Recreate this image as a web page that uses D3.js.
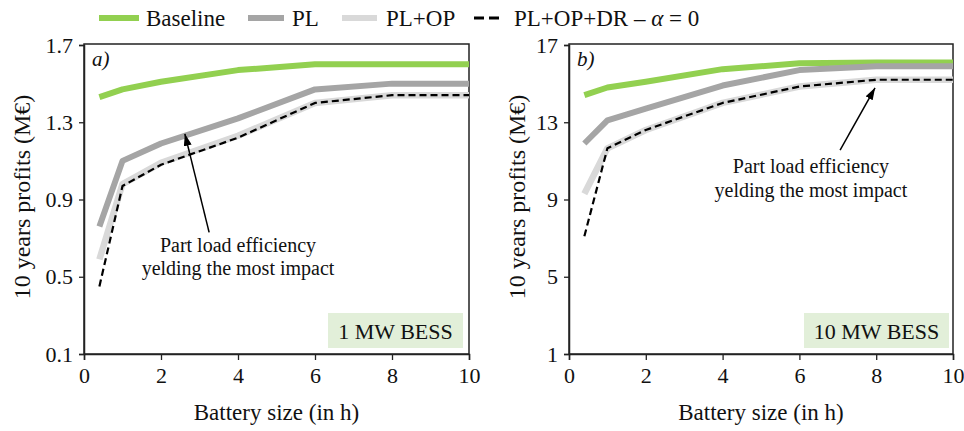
<!DOCTYPE html>
<html>
<head>
<meta charset="utf-8">
<script src="https://cdn.jsdelivr.net/npm/d3@7"></script>
<style>
  html, body { margin: 0; padding: 0; background: #fff; }
  svg { display: block; font-family: "Liberation Serif", "Times New Roman", serif; }
</style>
</head>
<body>
<svg id="chart" width="964" height="431"></svg>
<script>
// ---- data ----
const hours = [0.4, 1, 2, 4, 6, 8, 10];
const xTicks = [0, 2, 4, 6, 8, 10];

// panel a) 1 MW BESS
const base1 = [1.43, 1.47, 1.51, 1.57, 1.60, 1.60, 1.60];
const pl1   = [0.76, 1.10, 1.19, 1.32, 1.47, 1.50, 1.50];
const plop1 = [0.59, 0.98, 1.09, 1.23, 1.40, 1.44, 1.44];
const dr1   = [0.45, 0.97, 1.08, 1.22, 1.40, 1.44, 1.44];
const yTicks1 = [0.1, 0.5, 0.9, 1.3, 1.7];

// panel b) 10 MW BESS
const base10 = [14.4, 14.8, 15.1, 15.75, 16.05, 16.1, 16.1];
const pl10   = [11.9, 13.1, 13.7, 14.9, 15.7, 15.9, 15.9];
const plop10 = [9.3, 11.65, 12.6, 14.0, 14.85, 15.2, 15.2];
const dr10   = [7.1, 11.65, 12.6, 14.0, 14.85, 15.2, 15.2];
const yTicks10 = [1, 5, 9, 13, 17];

const seriesNames = ["Baseline", "PL", "PL+OP", "PL+OP+DR"];
const annotationLines = ["Part load efficiency", "yelding the most impact"];

// ---- styles ----
const styles = {
  "Baseline": { color: "#92d050", width: 6, dash: null },
  "PL":       { color: "#a5a5a5", width: 6, dash: null },
  "PL+OP":    { color: "#d9d9d9", width: 6.5, dash: null },
  "PL+OP+DR": { color: "#000000", width: 2.2, dash: "7,4" }
};

const svg = d3.select("#chart");
const defs = svg.append("defs");
defs.append("marker")
  .attr("id", "arrow").attr("viewBox", "0 0 12 8")
  .attr("refX", 12).attr("refY", 4)
  .attr("markerWidth", 12).attr("markerHeight", 8)
  .attr("markerUnits", "userSpaceOnUse")
  .attr("orient", "auto")
  .append("path").attr("d", "M0,0 L12,4 L0,8 Z").attr("fill", "#000");

const panels = [
  { left: 84, right: 469, domain: [0.1, 1.7], ticks: yTicks1, fmt: d3.format(".1f"),
    data: [base1, pl1, plop1, dr1], tag: "a)", bess: "1 MW BESS",
    titleX: 22, boxX0: 328, boxX1: 463,
    ann: { tip: [2.62, 1.24], tail: [3.25, 0.73], text: [4.0, 0.63] } },
  { left: 569, right: 953, domain: [1, 17], ticks: yTicks10, fmt: d3.format("d"),
    data: [base10, pl10, plop10, dr10], tag: "b)", bess: "10 MW BESS",
    titleX: 517, boxX0: 804, boxX1: 949,
    ann: { tip: [7.97, 14.78], tail: [7.06, 11.56], text: [6.3, 10.37] } }
];

const plotTop = 45, plotBottom = 354;
const serif = "'Liberation Serif', 'Times New Roman', serif";

panels.forEach(p => {
  const x = d3.scaleLinear().domain([0, 10]).range([p.left, p.right]);
  const y = d3.scaleLinear().domain(p.domain).range([plotBottom, plotTop]);
  const g = svg.append("g");

  // frame
  g.append("rect")
    .attr("x", p.left).attr("y", plotTop - 1)
    .attr("width", p.right - p.left).attr("height", plotBottom - plotTop + 1)
    .attr("fill", "none").attr("stroke", "#222").attr("stroke-width", 1.5);

  // BESS box
  g.append("rect")
    .attr("x", p.boxX0).attr("y", 313)
    .attr("width", p.boxX1 - p.boxX0).attr("height", 35)
    .attr("fill", "#e2efd9");
  g.append("text")
    .attr("x", (p.boxX0 + p.boxX1) / 2).attr("y", 338.5)
    .attr("text-anchor", "middle").attr("font-size", 22).attr("fill", "#111")
    .text(p.bess);

  // axes
  const xAxis = d3.axisBottom(x).tickValues(xTicks).tickSize(6).tickPadding(7);
  const gx = g.append("g").attr("transform", `translate(0,${plotBottom})`).call(xAxis);
  gx.select(".domain").attr("stroke", "#222").attr("stroke-width", 1.5);
  gx.selectAll(".tick line").attr("stroke", "#222").attr("stroke-width", 1.3);
  gx.selectAll(".tick text").attr("font-size", 22).attr("fill", "#111")
    .attr("font-family", serif);

  const yAxis = d3.axisLeft(y).tickValues(p.ticks).tickFormat(p.fmt).tickSize(5).tickPadding(6);
  const gy = g.append("g").attr("transform", `translate(${p.left},0)`).call(yAxis);
  gy.select(".domain").attr("stroke", "#222").attr("stroke-width", 1.5);
  gy.selectAll(".tick line").attr("stroke", "#222").attr("stroke-width", 1.3);
  gy.selectAll(".tick text").attr("font-size", 22).attr("fill", "#111")
    .attr("font-family", serif);

  // axis titles
  g.append("text")
    .attr("x", (p.left + p.right) / 2).attr("y", 420)
    .attr("text-anchor", "middle").attr("font-size", 23).attr("fill", "#111")
    .text("Battery size (in h)");
  g.append("text")
    .attr("transform", `translate(${p.titleX + 8},197) rotate(-90)`)
    .attr("text-anchor", "middle").attr("font-size", 24).attr("fill", "#111")
    .text("10 years profits (M€)");

  // lines
  const line = d3.line().x((d, i) => x(hours[i])).y(d => y(d));
  seriesNames.forEach((name, k) => {
    const s = styles[name];
    g.append("path")
      .datum(p.data[k])
      .attr("d", line)
      .attr("fill", "none")
      .attr("stroke", s.color)
      .attr("stroke-width", s.width)
      .attr("stroke-linejoin", "round")
      .attr("stroke-dasharray", s.dash);
  });

  // panel tag
  g.append("text")
    .attr("x", p.left + 8).attr("y", 66)
    .attr("font-size", 21).attr("font-style", "italic").attr("fill", "#111")
    .text(p.tag);

  // annotation
  g.append("line")
    .attr("x1", x(p.ann.tail[0])).attr("y1", y(p.ann.tail[1]))
    .attr("x2", x(p.ann.tip[0])).attr("y2", y(p.ann.tip[1]))
    .attr("stroke", "#000").attr("stroke-width", 1.5)
    .attr("marker-end", "url(#arrow)");
  const t = g.append("text")
    .attr("text-anchor", "middle").attr("font-size", 20).attr("fill", "#111");
  annotationLines.forEach((ln, i) => {
    t.append("tspan").attr("x", x(p.ann.text[0]))
      .attr("y", y(p.ann.text[1]) + i * 23.5).text(ln);
  });
});

// ---- legend ----
const legend = svg.append("g");
const legItems = [
  { name: "Baseline", x0: 99, x1: 139, tx: 146 },
  { name: "PL", x0: 248, x1: 284, tx: 292 },
  { name: "PL+OP", x0: 342, x1: 377, tx: 386 },
  { name: "PL+OP+DR", x0: 474, x1: 499, tx: 514 }
];
const ly = 18;
legItems.forEach(it => {
  const s = styles[it.name];
  if (s.dash) {
    legend.append("line").attr("x1", it.x0).attr("x2", it.x1).attr("y1", ly).attr("y2", ly)
      .attr("stroke", s.color).attr("stroke-width", 3).attr("stroke-dasharray", "10,5");
  } else {
    legend.append("line").attr("x1", it.x0).attr("x2", it.x1).attr("y1", ly).attr("y2", ly)
      .attr("stroke", s.color).attr("stroke-width", 6);
  }
  const tx = legend.append("text").attr("x", it.tx).attr("y", ly + 8)
    .attr("font-size", 23).attr("fill", "#111");
  if (it.name === "PL+OP+DR") {
    tx.append("tspan").text("PL+OP+DR – ");
    tx.append("tspan").attr("font-style", "italic").text("α");
    tx.append("tspan").text(" = 0");
  } else {
    tx.text(it.name);
  }
});
</script>
</body>
</html>
